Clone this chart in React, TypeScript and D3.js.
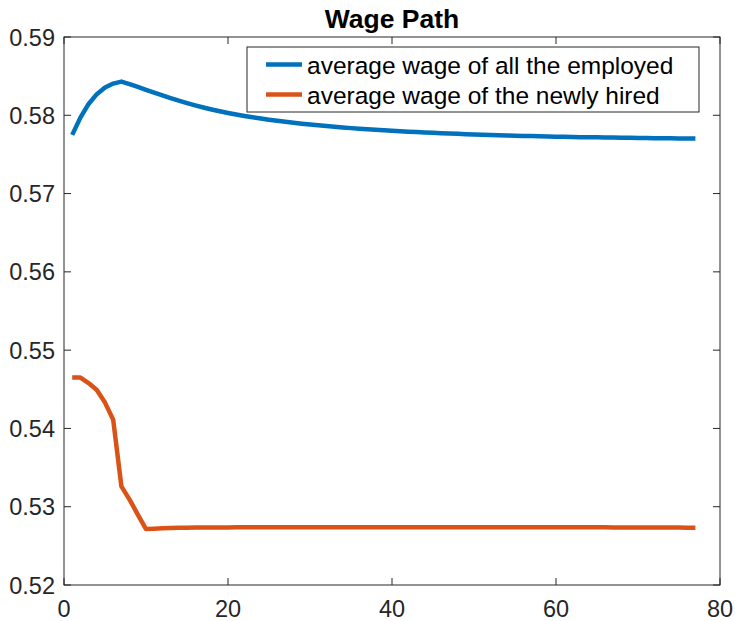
import React from "react";
import * as d3 from "d3";

const periods: number[] = Array.from({ length: 77 }, (_, i) => i + 1);

const employedWage: number[] = [
  0.57750, 0.57970, 0.58145, 0.58270, 0.58355, 0.58405, 0.58430, 0.58398, 0.58362, 0.58325,
  0.58289, 0.58253, 0.58219, 0.58186, 0.58155, 0.58126, 0.58099, 0.58074, 0.58051, 0.58030,
  0.58010, 0.57992, 0.57975, 0.57959, 0.57944, 0.57930, 0.57917, 0.57905, 0.57893, 0.57882,
  0.57872, 0.57862, 0.57853, 0.57844, 0.57836, 0.57828, 0.57821, 0.57814, 0.57808, 0.57802,
  0.57796, 0.57791, 0.57786, 0.57781, 0.57776, 0.57771, 0.57767, 0.57763, 0.57759, 0.57755,
  0.57752, 0.57748, 0.57745, 0.57742, 0.57739, 0.57736, 0.57734, 0.57731, 0.57729, 0.57727,
  0.57725, 0.57723, 0.57721, 0.57719, 0.57718, 0.57716, 0.57715, 0.57713, 0.57712, 0.57710,
  0.57709, 0.57708, 0.57707, 0.57706, 0.57705, 0.57704, 0.57703,
];

const newHireWage: number[] = [
  0.54650, 0.54650, 0.54580, 0.54490, 0.54330, 0.54110, 0.53260, 0.53090, 0.52900, 0.52715,
  0.52720, 0.52725, 0.52728, 0.52730, 0.52732, 0.52733, 0.52734, 0.52735, 0.52736, 0.52736,
  0.52737, 0.52737, 0.52737, 0.52737, 0.52737, 0.52737, 0.52737, 0.52737, 0.52737, 0.52737,
  0.52737, 0.52737, 0.52737, 0.52737, 0.52737, 0.52737, 0.52737, 0.52737, 0.52737, 0.52737,
  0.52737, 0.52737, 0.52737, 0.52737, 0.52737, 0.52737, 0.52737, 0.52737, 0.52737, 0.52737,
  0.52737, 0.52737, 0.52737, 0.52737, 0.52737, 0.52737, 0.52737, 0.52737, 0.52737, 0.52737,
  0.52737, 0.52737, 0.52737, 0.52737, 0.52737, 0.52737, 0.52736, 0.52736, 0.52736, 0.52735,
  0.52735, 0.52734, 0.52734, 0.52733, 0.52733, 0.52732, 0.52732,
];

const xTicks: number[] = [0, 20, 40, 60, 80];
const yTicks: number[] = [0.52, 0.53, 0.54, 0.55, 0.56, 0.57, 0.58, 0.59];

const seriesNames: string[] = [
  "average wage of all the employed",
  "average wage of the newly hired",
];
const seriesColors: string[] = ["#0072BD", "#D95319"];
const title = "Wage Path";

const W = 735;
const H = 621;
const left = 64;
const right = 720;
const top = 37;
const bottom = 585;
const axisColor = "#262626";
const font = "'Liberation Sans', Arial, Helvetica, sans-serif";

export default function App() {
  const x = d3.scaleLinear().domain([0, 80]).range([left, right]);
  const y = d3.scaleLinear().domain([0.52, 0.59]).range([bottom, top]);
  const line = d3
    .line<number>()
    .x((_, i) => x(periods[i]))
    .y((d) => y(d));
  const series = [employedWage, newHireWage];
  const tickLen = 7;

  return (
    <svg
      width={W}
      height={H}
      style={{ position: "absolute", left: 0, top: 0, background: "#fff" }}
    >
      <rect x={0} y={0} width={W} height={H} fill="#fff" />
      <text
        x={(left + right) / 2}
        y={28}
        textAnchor="middle"
        fontFamily={font}
        fontWeight="bold"
        fontSize={26.5}
        fill="#000"
      >
        {title}
      </text>

      {series.map((s, k) => (
        <path
          key={k}
          d={line(s) || ""}
          fill="none"
          stroke={seriesColors[k]}
          strokeWidth={4.5}
          strokeLinejoin="round"
        />
      ))}

      <rect
        x={left}
        y={top}
        width={right - left}
        height={bottom - top}
        fill="none"
        stroke={axisColor}
        strokeWidth={1}
      />
      {xTicks.map((t) => (
        <g key={"xt" + t}>
          <line x1={x(t)} x2={x(t)} y1={bottom} y2={bottom - tickLen} stroke={axisColor} />
          <line x1={x(t)} x2={x(t)} y1={top} y2={top + tickLen} stroke={axisColor} />
          <text
            x={x(t)}
            y={617}
            textAnchor="middle"
            fontFamily={font}
            fontSize={23.5}
            fill="#262626"
          >
            {t}
          </text>
        </g>
      ))}
      {yTicks.map((t) => (
        <g key={"yt" + t}>
          <line x1={left} x2={left + tickLen} y1={y(t)} y2={y(t)} stroke={axisColor} />
          <line x1={right} x2={right - tickLen} y1={y(t)} y2={y(t)} stroke={axisColor} />
          <text
            x={55}
            y={y(t) + 8.5}
            textAnchor="end"
            fontFamily={font}
            fontSize={23.5}
            fill="#262626"
          >
            {t.toFixed(2)}
          </text>
        </g>
      ))}

      <rect x={247} y={47} width={452} height={65} fill="#fff" stroke={axisColor} strokeWidth={1} />
      {seriesNames.map((name, k) => (
        <g key={name}>
          <line
            x1={266}
            x2={302}
            y1={64.5 + k * 30}
            y2={64.5 + k * 30}
            stroke={seriesColors[k]}
            strokeWidth={4.5}
          />
          <text
            x={307}
            y={73.5 + k * 30}
            fontFamily={font}
            fontSize={24.5}
            fill="#000"
          >
            {name}
          </text>
        </g>
      ))}
    </svg>
  );
}
